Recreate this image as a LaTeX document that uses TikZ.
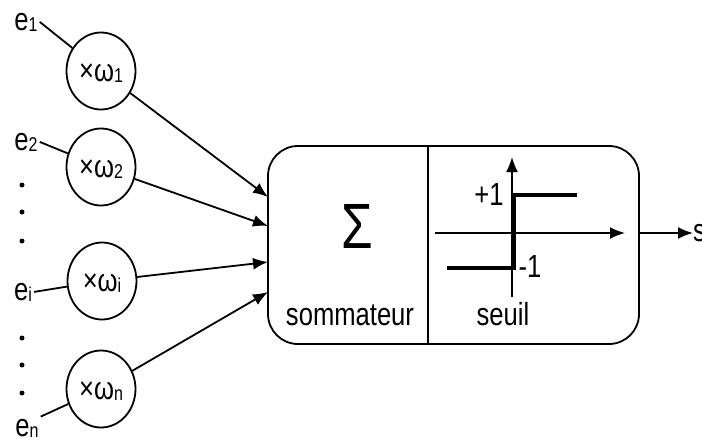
\documentclass[tikz,border=0pt]{standalone}
\usepackage{fontspec}
\setmainfont{Liberation Sans}[FakeStretch=0.8]
\usetikzlibrary{arrows.meta,shapes.geometric,calc}
\newcommand{\sub}[1]{\raisebox{-1pt}{\fontsize{20}{20}\selectfont #1}}

\begin{document}
\begin{tikzpicture}[x=1pt,y=-1pt,
  every node/.style={font=\fontsize{32}{32}\selectfont,inner sep=2pt},
  wgt/.style={draw,ellipse,line width=1.8pt,minimum width=69pt,minimum height=77pt,inner sep=0pt,text height=21pt,text depth=0pt},
  ele/.style={fill=black,circle,inner sep=0pt,minimum size=5pt},
  arr/.style={-{Latex[length=15pt,width=12pt]},line width=1.8pt},
  ln/.style={line width=1.8pt}]
  \useasboundingbox (0,0) rectangle (702,442);

  % inputs
  \node[anchor=base] (e1) at (26,30) {e\sub{1}};
  \node[anchor=base] (e2) at (26,150) {e\sub{2}};
  \node[anchor=base] (ei) at (23,300) {e\sub{i}};
  \node[anchor=base] (en) at (27,436) {e\sub{n}};
  \foreach \y in {185,212,241,338,365,393}
    \node[ele] at (22,\y) {};

  % weights
  \node[wgt] (w1) at (101,71) {×ω\sub{1}};
  \node[wgt] (w2) at (101,167) {×ω\sub{2}};
  \node[wgt] (wi) at (102,281) {×ω\sub{i}};
  \node[wgt] (wn) at (101,389) {×ω\sub{n}};

  \draw[ln] (e1.east) -- (w1);
  \draw[ln] (e2.east) -- (w2);
  \draw[ln] (ei.east) -- (wi);
  \draw[ln] (en.north east) -- (wn);

  % neuron
  \node[draw,rounded corners=30pt,line width=1.8pt,minimum width=371pt,minimum height=198pt] (box) at (453.5,245) {};
  \coordinate (dv) at (428,0);
  \draw[ln] (box.north -| dv) -- (box.south -| dv);
  \node[anchor=base] (sum) at (357,248) {\fontsize{64}{64}\selectfont Σ};
  \node[anchor=base] (som) at (350,325) {sommateur};
  \node[anchor=base] (seuil) at (503,325) {seuil};

  \coordinate (in1) at (268,197);
  \coordinate (in2) at (268,226);
  \coordinate (in3) at (268,262);
  \coordinate (in4) at (268,292);
  \draw[arr] (w1) -- (in1);
  \draw[arr] (w2) -- (in2);
  \draw[arr] (wi) -- (in3);
  \draw[arr] (wn) -- (in4);

  % threshold
  \coordinate (ax0) at (435,233);
  \coordinate (ax1) at (625,233);
  \coordinate (ay0) at (512,297);
  \coordinate (ay1) at (512,157);
  \draw[arr] (ax0) -- (ax1);
  \draw[arr] (ay0) -- (ay1);
  \draw[line width=4pt] (447,268) -- (514,268) -- (514,195) -- (577,195);
  \node[anchor=base] (p1) at (489,205) {+1};
  \node[anchor=base] (m1) at (530,277) {-1};

  % output
  \coordinate (out) at (box.east |- ax0);
  \node[anchor=base west,inner sep=0pt] (s) at (693,241) {s};
  \draw[arr] (out) -- (s.west |- ax0);
\end{tikzpicture}
\end{document}
